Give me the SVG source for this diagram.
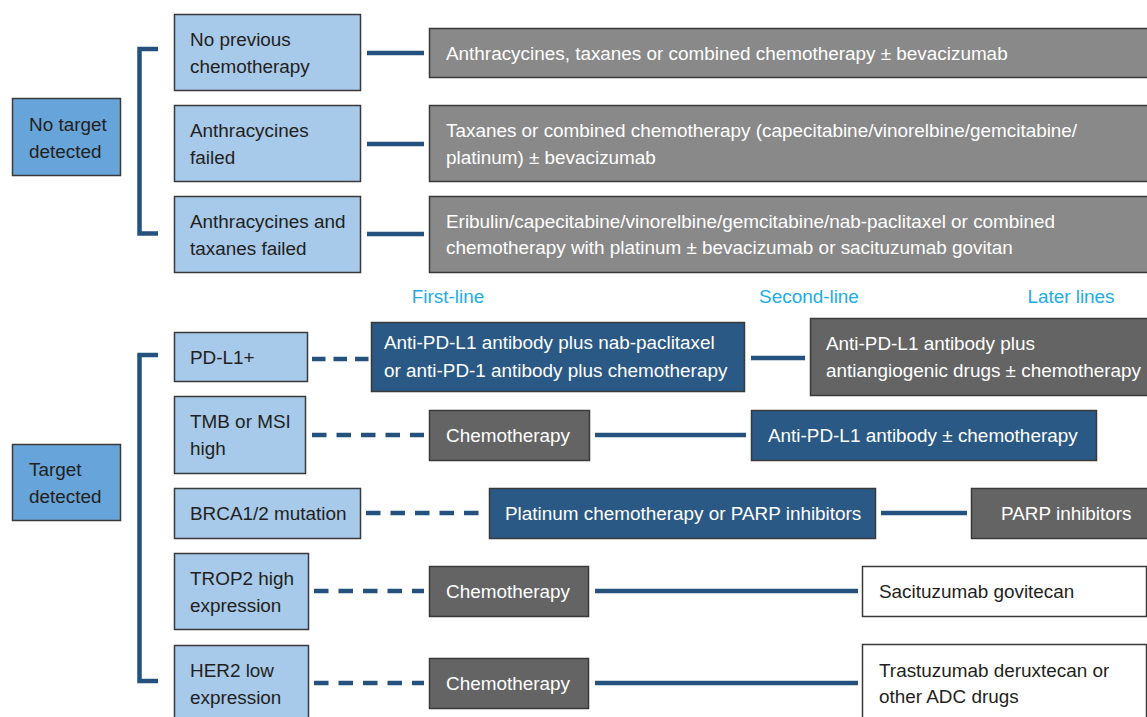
<svg xmlns="http://www.w3.org/2000/svg" width="1147" height="717" viewBox="0 0 1147 717">
<style>
text{font-family:"Liberation Sans",Arial,Helvetica,sans-serif;font-size:18.9px}
.lb rect{fill:#a7c9ea;stroke:#3a3a3a;stroke-width:1.5}
.mb rect{fill:#67a4da;stroke:#3a3a3a;stroke-width:1.5}
.gr rect{fill:#898989;stroke:#3a3a3a;stroke-width:1.5}
.dg rect{fill:#646464;stroke:#3a3a3a;stroke-width:1.5}
.db rect{fill:#2a5985;stroke:#3a3a3a;stroke-width:1.5}
.wh rect{fill:#ffffff;stroke:#3a3a3a;stroke-width:1.5}
.lb text,.mb text,.wh text{fill:#231f20}
.gr text,.dg text,.db text{fill:#ffffff}
.hd{fill:#1cade8}
#connectors path{fill:none;stroke:#24517d;stroke-width:4.5}
#connectors .d{stroke-dasharray:13.5 8}
#connectors .d2{stroke-dasharray:14.5 10}
</style>

<g id="connectors">
<path d="M158,49 H139.5 V233.5 H158"/>
<path d="M158,355 H139.5 V681 H158"/>
<path d="M367,53 H424"/>
<path d="M367,144 H424"/>
<path d="M367,234 H424"/>
<path class="d" d="M312,359 H369"/>
<path d="M751,358 H805"/>
<path class="d2" d="M312,435 H424"/>
<path d="M595,435 H746"/>
<path class="d2" d="M366,513 H484"/>
<path d="M881,513 H967"/>
<path class="d2" d="M314,591 H424"/>
<path d="M595,591 H858"/>
<path class="d2" d="M314,683 H424"/>
<path d="M595,683 H858"/>
</g>

<g id="no-target" class="mb"><rect x="12.5" y="98.5" width="108" height="77"/><text x="29" y="131">No target</text><text x="29" y="158">detected</text></g>
<g id="no-prev" class="lb"><rect x="174.5" y="14.5" width="186" height="76"/><text x="190" y="46">No previous</text><text x="190" y="73">chemotherapy</text></g>
<g id="anth-failed" class="lb"><rect x="174.5" y="105.5" width="186" height="76"/><text x="190" y="137">Anthracycines</text><text x="190" y="164">failed</text></g>
<g id="anth-tax-failed" class="lb"><rect x="174.5" y="196.5" width="186" height="76"/><text x="190" y="228">Anthracycines and</text><text x="190" y="255">taxanes failed</text></g>

<g id="tx1" class="gr"><rect x="429.5" y="28.5" width="725" height="49"/><text x="446" y="60">Anthracycines, taxanes or combined chemotherapy ± bevacizumab</text></g>
<g id="tx2" class="gr"><rect x="429.5" y="105.5" width="725" height="76"/><text x="446" y="137">Taxanes or combined chemotherapy (capecitabine/vinorelbine/gemcitabine/</text><text x="446" y="164">platinum) ± bevacizumab</text></g>
<g id="tx3" class="gr"><rect x="429.5" y="196.5" width="725" height="76"/><text x="446" y="228">Eribulin/capecitabine/vinorelbine/gemcitabine/nab-paclitaxel or combined</text><text x="446" y="254">chemotherapy with platinum ± bevacizumab or sacituzumab govitan</text></g>

<g id="headers"><text class="hd" x="448" y="303" text-anchor="middle">First-line</text><text class="hd" x="809" y="303" text-anchor="middle">Second-line</text><text class="hd" x="1071" y="303" text-anchor="middle">Later lines</text></g>

<g id="target" class="mb"><rect x="12.5" y="444.5" width="108" height="76"/><text x="29" y="476">Target</text><text x="29" y="503">detected</text></g>
<g id="pdl1" class="lb"><rect x="174.5" y="332.5" width="133" height="49"/><text x="190" y="364">PD-L1+</text></g>
<g id="pdl1-1" class="db"><rect x="371.5" y="322.5" width="373" height="69"/><text x="384" y="349">Anti-PD-L1 antibody plus nab-paclitaxel</text><text x="384" y="377">or anti-PD-1 antibody plus chemotherapy</text></g>
<g id="pdl1-3" class="dg"><rect x="810.5" y="318.5" width="345" height="77"/><text x="826" y="350">Anti-PD-L1 antibody plus</text><text x="826" y="377">antiangiogenic drugs ± chemotherapy</text></g>

<g id="tmb" class="lb"><rect x="174.5" y="396.5" width="131" height="77"/><text x="190" y="428">TMB or MSI</text><text x="190" y="455">high</text></g>
<g id="tmb-1" class="dg"><rect x="429.5" y="410.5" width="160" height="50"/><text x="446" y="442">Chemotherapy</text></g>
<g id="tmb-2" class="db"><rect x="751.5" y="410.5" width="345" height="50"/><text x="768" y="442">Anti-PD-L1 antibody ± chemotherapy</text></g>

<g id="brca" class="lb"><rect x="174.5" y="488.5" width="186" height="50"/><text x="190" y="520">BRCA1/2 mutation</text></g>
<g id="brca-1" class="db"><rect x="489.5" y="488.5" width="386" height="50"/><text x="505" y="520">Platinum chemotherapy or PARP inhibitors</text></g>
<g id="brca-3" class="dg"><rect x="971.5" y="488.5" width="185" height="50"/><text x="1001" y="520">PARP inhibitors</text></g>

<g id="trop2" class="lb"><rect x="174.5" y="553.5" width="134" height="76"/><text x="190" y="585">TROP2 high</text><text x="190" y="612">expression</text></g>
<g id="trop2-1" class="dg"><rect x="429.5" y="566.5" width="159" height="50"/><text x="446" y="598">Chemotherapy</text></g>
<g id="trop2-3" class="wh"><rect x="862.5" y="566.5" width="284" height="50"/><text x="879" y="598">Sacituzumab govitecan</text></g>

<g id="her2" class="lb"><rect x="174.5" y="645.5" width="134" height="80"/><text x="190" y="677">HER2 low</text><text x="190" y="704">expression</text></g>
<g id="her2-1" class="dg"><rect x="429.5" y="658.5" width="159" height="50"/><text x="446" y="690">Chemotherapy</text></g>
<g id="her2-3" class="wh"><rect x="862.5" y="644.5" width="284" height="80"/><text x="879" y="677">Trastuzumab deruxtecan or</text><text x="879" y="703">other ADC drugs</text></g>
</svg>
